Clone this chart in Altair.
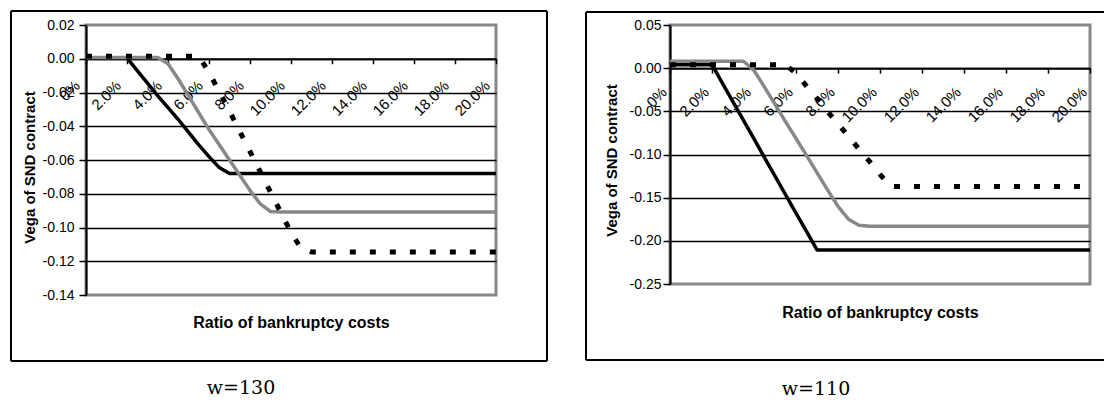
import altair as alt
import pandas as pd

# ---------------- data ----------------
pct = [0.0, 0.5, 1.0, 1.5, 2.0, 2.5, 3.0, 3.5, 4.0, 4.5, 5.0, 5.5, 6.0, 6.5,
       7.0, 7.5, 8.0, 8.5, 9.0, 9.5, 10.0, 10.5, 11.0, 11.5, 12.0, 12.5,
       13.0, 13.5, 14.0, 14.5, 15.0, 15.5, 16.0, 16.5, 17.0, 17.5, 18.0,
       18.5, 19.0, 19.5, 20.0]

series_names = ["solid black", "solid gray", "dotted black"]

w130_black = [0.0005, 0.0005, 0.0005, 0.0005, 0.0005, -0.007, -0.0145, -0.022,
              -0.029, -0.036, -0.0435, -0.051, -0.058, -0.0645, -0.068,
              -0.068, -0.068, -0.068, -0.068, -0.068, -0.068, -0.068, -0.068,
              -0.068, -0.068, -0.068, -0.068, -0.068, -0.068, -0.068, -0.068,
              -0.068, -0.068, -0.068, -0.068, -0.068, -0.068, -0.068, -0.068,
              -0.068, -0.068]
w130_gray = [0.0007, 0.0007, 0.0007, 0.0007, 0.0007, 0.0007, 0.0007, 0.0007,
             -0.003, -0.012, -0.022, -0.032, -0.042, -0.051, -0.060, -0.069,
             -0.078, -0.086, -0.0905, -0.0908, -0.0908, -0.0908, -0.0908,
             -0.0908, -0.0908, -0.0908, -0.0908, -0.0908, -0.0908, -0.0908,
             -0.0908, -0.0908, -0.0908, -0.0908, -0.0908, -0.0908, -0.0908,
             -0.0908, -0.0908, -0.0908, -0.0908]
w130_dot = [0.0015, 0.0015, 0.0015, 0.0015, 0.0015, 0.0015, 0.0015, 0.0015,
            0.0015, 0.0015, 0.0015, 0.0015, -0.008, -0.0196, -0.031, -0.043,
            -0.055, -0.067, -0.079, -0.091, -0.103, -0.1125, -0.1145, -0.1145,
            -0.1145, -0.1145, -0.1145, -0.1145, -0.1145, -0.1145, -0.1145,
            -0.1145, -0.1145, -0.1145, -0.1145, -0.1145, -0.1145, -0.1145,
            -0.1145, -0.1145, -0.1145]

w110_black = [0.004, 0.004, 0.004, 0.004, 0.004, -0.0175, -0.039, -0.0605,
              -0.082, -0.1035, -0.125, -0.1465, -0.168, -0.189, -0.2105,
              -0.2105, -0.2105, -0.2105, -0.2105, -0.2105, -0.2105, -0.2105,
              -0.2105, -0.2105, -0.2105, -0.2105, -0.2105, -0.2105, -0.2105,
              -0.2105, -0.2105, -0.2105, -0.2105, -0.2105, -0.2105, -0.2105,
              -0.2105, -0.2105, -0.2105, -0.2105, -0.2105]
w110_gray = [0.008, 0.008, 0.008, 0.008, 0.008, 0.008, 0.008, 0.008,
             -0.0025, -0.022, -0.042, -0.062, -0.0815, -0.101, -0.121, -0.141,
             -0.160, -0.175, -0.182, -0.183, -0.183, -0.183, -0.183, -0.183,
             -0.183, -0.183, -0.183, -0.183, -0.183, -0.183, -0.183, -0.183,
             -0.183, -0.183, -0.183, -0.183, -0.183, -0.183, -0.183, -0.183,
             -0.183]
w110_dot = [0.004, 0.004, 0.004, 0.004, 0.004, 0.004, 0.004, 0.004, 0.004,
            0.004, 0.004, 0.004, -0.006, -0.0207, -0.035, -0.050, -0.0644,
            -0.079, -0.0937, -0.108, -0.123, -0.137, -0.137, -0.137, -0.137,
            -0.137, -0.137, -0.137, -0.137, -0.137, -0.137, -0.137, -0.137,
            -0.137, -0.137, -0.137, -0.137, -0.137, -0.137, -0.137, -0.137]

x_ticks = [0, 2, 4, 6, 8, 10, 12, 14, 16, 18, 20]
y_ticks_130 = [0.02, 0.0, -0.02, -0.04, -0.06, -0.08, -0.10, -0.12, -0.14]
y_ticks_110 = [0.05, 0.0, -0.05, -0.10, -0.15, -0.20, -0.25]

x_title = "Ratio of bankruptcy costs"
y_title = "Vega of SND contract"
captions = ["w=130", "w=110"]

for s in (w130_black, w130_gray, w130_dot, w110_black, w110_gray, w110_dot):
    assert len(s) == len(pct)

FONT = "Liberation Sans"
GRAY = "#888888"
styles = {
    "solid black": dict(color="#000000", strokeWidth=3.5),
    "solid gray": dict(color=GRAY, strokeWidth=3.5),
    "dotted black": dict(color="#000000", strokeWidth=5, strokeDash=[6, 14]),
}


def frame(values):
    rows = []
    for name, vals in zip(series_names, values):
        for p, v in zip(pct, vals):
            rows.append({"pct": p, "value": v, "series": name})
    return pd.DataFrame(rows)


def rule(x1, y1, x2=None, y2=None):
    enc = {"x": alt.value(x1), "y": alt.value(y1)}
    if x2 is not None:
        enc["x2"] = alt.value(x2)
    if y2 is not None:
        enc["y2"] = alt.value(y2)
    return (alt.Chart(alt.Data(values=[{"k": 1}]))
            .mark_rule(color="black", strokeWidth=2)
            .encode(**enc))


def panel(values, ydom, yticks, w, h, lab_off, lab_pad, ylab_pad,
          xtitle_y, ytitle_x, ytitle_y, frame_rules, caption, cap_x, cap_y):
    df = frame(values)
    ymax, ymin = ydom
    zero_px = (ymax - 0.0) / (ymax - ymin) * h
    xaxis = alt.Axis(
        values=x_ticks, offset=zero_px - h,
        labelExpr="datum.value == 0 ? '0%' : format(datum.value, '.1f') + '%'",
        labelAngle=-45, labelAlign="right", labelBaseline="middle",
        labelOffset=lab_off, labelPadding=lab_pad, labelFlush=False,
        labelOverlap=False, labelFont=FONT, labelFontSize=15,
        labelColor="black",
        tickSize=5, tickColor="black", tickWidth=1.5,
        domainColor="black", domainWidth=2, grid=False,
        title=x_title, titleY=xtitle_y, titleBaseline="middle",
        titleFont=FONT, titleFontSize=16, titleFontWeight="bold",
        titleColor="black")
    lo, hi = min(yticks), max(yticks)
    yaxis = alt.Axis(
        values=yticks,
        labelExpr="(datum.value < 0 ? '-' : '') + format(abs(datum.value), '.2f')",
        labelFont=FONT, labelFontSize=14, labelColor="black",
        labelPadding=ylab_pad, labelFlush=False,
        tickSize=7, tickColor="black", tickWidth=1.5,
        domainColor="black", domainWidth=2,
        grid=True, gridColor="black", gridWidth=1.5,
        gridOpacity={"condition": {"test": f"datum.value >= {hi - 1e-6} || datum.value <= {lo + 1e-6}",
                                   "value": 0}, "value": 1},
        title=y_title, titleX=ytitle_x, titleY=ytitle_y, titleAngle=270,
        titleAlign="center", titleBaseline="middle",
        titleFont=FONT, titleFontSize=15, titleFontWeight="bold",
        titleColor="black")
    base = alt.Chart(df).encode(
        x=alt.X("pct:Q", scale=alt.Scale(domain=[0, 20], nice=False, zero=False), axis=xaxis),
        y=alt.Y("value:Q", scale=alt.Scale(domain=[ymin, ymax], nice=False, zero=False), axis=yaxis),
    )
    layers = []
    for name in series_names:
        layers.append(base.transform_filter(alt.datum.series == name)
                      .mark_line(strokeCap="butt", strokeJoin="round", **styles[name]))
    for r in frame_rules:
        layers.append(rule(*r))
    layers.append(
        alt.Chart(alt.Data(values=[{"k": 1}]))
        .mark_text(font="DejaVu Serif", fontSize=19, align="center",
                   baseline="alphabetic", color="black")
        .encode(x=alt.value(cap_x), y=alt.value(cap_y), text=alt.value(caption)))
    return alt.layer(*layers).properties(width=w, height=h)


left = panel([w130_black, w130_gray, w130_dot], (0.02, -0.14), y_ticks_130,
             410, 270, lab_off=-9, lab_pad=19, ylab_pad=5,
             xtitle_y=264, ytitle_x=-57, ytitle_y=142,
             frame_rules=[(-75, -14, 461, None), (-75, 336, 461, None),
                          (-75, -14, None, 336), (461, -14, None, 336)],
             caption=captions[0], cap_x=155, cap_y=369)

right = panel([w110_black, w110_gray, w110_dot], (0.05, -0.25), y_ticks_110,
              420, 259, lab_off=-6, lab_pad=16, ylab_pad=2,
              xtitle_y=244, ytitle_x=-59, ytitle_y=135,
              frame_rules=[(-84, -13, 434, None), (-84, 335, 434, None),
                           (-84, -13, None, 335)],
              caption=captions[1], cap_x=146, cap_y=370)

chart = (alt.hconcat(left, right, spacing=33)
         .properties(padding=0, background="white")
         .configure(padding=0)
         .configure_view(stroke=GRAY, strokeWidth=3))

chart.save("out.html", embed_options={"renderer": "svg", "actions": False})
